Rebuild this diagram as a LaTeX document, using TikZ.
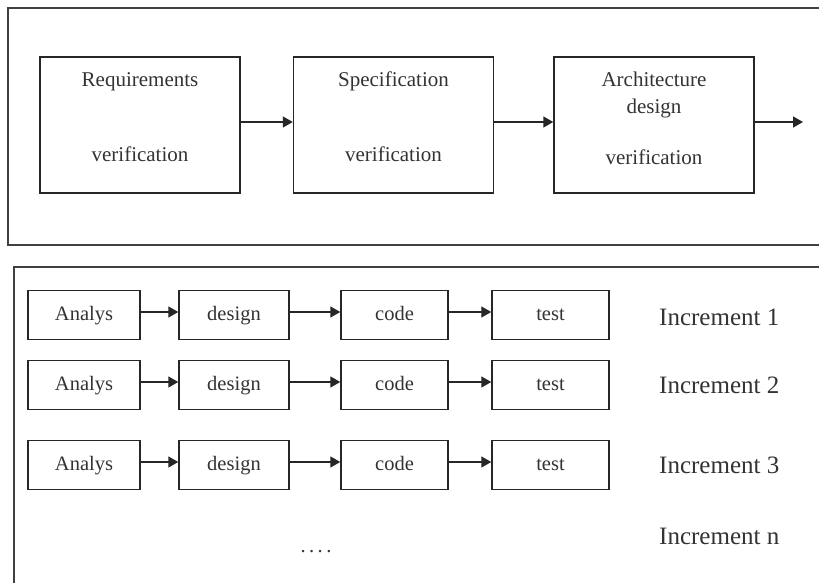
\documentclass[tikz,border=0pt]{standalone}
\usepackage{fontspec}
\setmainfont{Liberation Serif}
\usetikzlibrary{calc}
\usetikzlibrary{positioning, arrows.meta}

\begin{document}
\begin{tikzpicture}[x=1pt, y=-1pt,
    frame/.style={draw=black!75, line width=1.6pt},
    stage/.style={rectangle, draw=black!85, line width=1.5pt, minimum width=200pt, minimum height=136pt, inner sep=0pt},
    step box/.style={rectangle, draw=black!85, line width=1.5pt, minimum height=49pt, inner sep=0pt},
    txt/.style={text=black!80, font=\fontsize{21}{25}\selectfont, inner sep=0pt, anchor=base},
    small txt/.style={text=black!80, font=\fontsize{20.5}{24}\selectfont, inner sep=0pt, anchor=base},
    inc/.style={text=black!80, font=\fontsize{25}{30}\selectfont, inner sep=0pt, anchor=base west},
    flow/.style={-{Triangle[length=10pt,width=11pt]}, line width=1.5pt, black!85}]
        \clip (0,0) rectangle (819,582);
        \fill[white] (0,0) rectangle (819,582);

        % waterfall with verification
        \draw[frame] (8,8) rectangle (840,245);
        \node[stage] (req) at (140,125) {};
        \node[stage] (spec) at (393.5,125) {};
        \node[stage] (arch) at (654,125) {};
        \node[txt] (reqa) at ($(req.north)+(0,30)$) {Requirements};
        \node[txt] (reqb) at ($(req.north)+(0,105)$) {verification};
        \node[txt] (speca) at ($(spec.north)+(0,30)$) {Specification};
        \node[txt] (specb) at ($(spec.north)+(0,105)$) {verification};
        \node[txt] (archa) at ($(arch.north)+(0,30)$) {Architecture};
        \node[txt] (archb) at ($(arch.north)+(0,57)$) {design};
        \node[txt] (archc) at ($(arch.north)+(0,108)$) {verification};
        \coordinate (out) at (803,122);
        \draw[flow] ([yshift=3pt]req.east) -- ([yshift=3pt]spec.west);
        \draw[flow] ([yshift=3pt]spec.east) -- ([yshift=3pt]arch.west);
        \draw[flow] ([yshift=3pt]arch.east) -- (out);

        % increments
        \draw[frame] (14,267) rectangle (840,600);
        \foreach \r/\y/\b in {1/315/325, 2/385/393, 3/465/473} {
            \node[step box, minimum width=112pt] (an\r) at (84,\y) {};
            \node[step box, minimum width=110pt] (de\r) at (234,\y) {};
            \node[step box, minimum width=107pt] (co\r) at (394.5,\y) {};
            \node[step box, minimum width=117pt] (te\r) at (550.5,\y) {};
            \node[small txt] (ant\r) at ($(an\r)+(0,5)$) {Analys};
            \node[small txt] (det\r) at ($(de\r)+(0,5)$) {design};
            \node[small txt] (cot\r) at ($(co\r)+(0,5)$) {code};
            \node[small txt] (tet\r) at ($(te\r)+(0,5)$) {test};
            \node[inc] (inc\r) at (659,\b) {Increment \r};
            \draw[flow] ([yshift=3pt]an\r.east) -- ([yshift=3pt]de\r.west);
            \draw[flow] ([yshift=3pt]de\r.east) -- ([yshift=3pt]co\r.west);
            \draw[flow] ([yshift=3pt]co\r.east) -- ([yshift=3pt]te\r.west);
        }
        \node[inc] (incn) at (659,544) {Increment n};
        \node[small txt] (dots) at (316,552) {.\,.\,.\,.};
\end{tikzpicture}
\end{document}
